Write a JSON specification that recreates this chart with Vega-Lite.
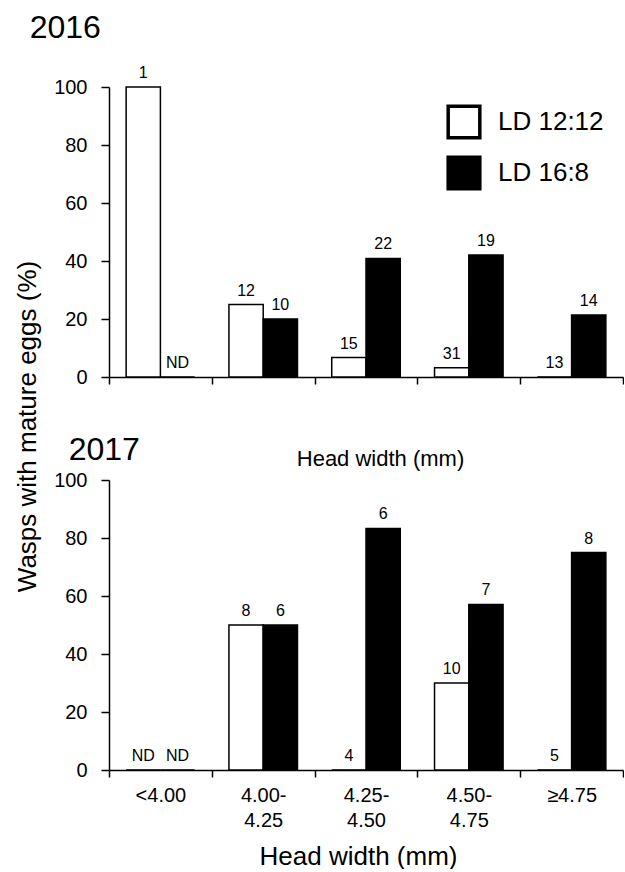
{
  "$schema": "https://vega.github.io/schema/vega-lite/v6.json",
  "padding": {"left": 14, "top": 12, "right": 0, "bottom": 0},
  "bounds": "flush",
  "spacing": 103,
  "background": "white",
  "data": {"values": [
    {"year": 2016, "size": "<4.00", "group": "LD 12:12", "pct": 100, "n": "1"},
    {"year": 2016, "size": "<4.00", "group": "LD 16:8", "pct": 0, "n": "ND"},
    {"year": 2016, "size": "4.00- 4.25", "group": "LD 12:12", "pct": 25, "n": "12"},
    {"year": 2016, "size": "4.00- 4.25", "group": "LD 16:8", "pct": 20, "n": "10"},
    {"year": 2016, "size": "4.25- 4.50", "group": "LD 12:12", "pct": 6.7, "n": "15"},
    {"year": 2016, "size": "4.25- 4.50", "group": "LD 16:8", "pct": 40.9, "n": "22"},
    {"year": 2016, "size": "4.50- 4.75", "group": "LD 12:12", "pct": 3.2, "n": "31"},
    {"year": 2016, "size": "4.50- 4.75", "group": "LD 16:8", "pct": 42.1, "n": "19"},
    {"year": 2016, "size": "≥4.75", "group": "LD 12:12", "pct": 0, "n": "13"},
    {"year": 2016, "size": "≥4.75", "group": "LD 16:8", "pct": 21.4, "n": "14"},
    {"year": 2017, "size": "<4.00", "group": "LD 12:12", "pct": 0, "n": "ND"},
    {"year": 2017, "size": "<4.00", "group": "LD 16:8", "pct": 0, "n": "ND"},
    {"year": 2017, "size": "4.00- 4.25", "group": "LD 12:12", "pct": 50, "n": "8"},
    {"year": 2017, "size": "4.00- 4.25", "group": "LD 16:8", "pct": 50, "n": "6"},
    {"year": 2017, "size": "4.25- 4.50", "group": "LD 12:12", "pct": 0, "n": "4"},
    {"year": 2017, "size": "4.25- 4.50", "group": "LD 16:8", "pct": 83.3, "n": "6"},
    {"year": 2017, "size": "4.50- 4.75", "group": "LD 12:12", "pct": 30, "n": "10"},
    {"year": 2017, "size": "4.50- 4.75", "group": "LD 16:8", "pct": 57.1, "n": "7"},
    {"year": 2017, "size": "≥4.75", "group": "LD 12:12", "pct": 0, "n": "5"},
    {"year": 2017, "size": "≥4.75", "group": "LD 16:8", "pct": 75, "n": "8"}
  ]},
  "resolve": {"legend": {"fill": "independent"}},
  "vconcat": [
    {
      "width": 514,
      "height": 290,
      "title": {"text": "2016", "anchor": "start", "dx": 15, "offset": 20},
      "transform": [{"filter": "datum.year == 2016"}],
      "encoding": {
        "x": {"field": "size", "type": "nominal", "sort": null,
          "scale": {"paddingInner": 0, "paddingOuter": 0},
          "axis": {"labels": false, "tickBand": "extent", "title": "Head width (mm)", "titleFontSize": 22, "titlePadding": 64, "titleX": 271}},
        "xOffset": {"field": "group", "type": "nominal", "scale": {"paddingInner": 0, "paddingOuter": 0.5}},
        "y": {"field": "pct", "type": "quantitative",
          "scale": {"domain": [0, 100], "nice": false},
          "axis": {"values": [0, 20, 40, 60, 80, 100], "title": "Wasps with mature eggs (%)", "titleFontSize": 26, "titleY": 339, "titlePadding": 13}}
      },
      "layer": [
        {
          "mark": {"type": "bar", "stroke": "black", "strokeWidth": 1.5},
          "encoding": {
            "fill": {"field": "group", "type": "nominal",
              "scale": {"domain": ["LD 12:12", "LD 16:8"], "range": ["white", "black"]},
              "legend": {"orient": "none", "legendX": 337, "legendY": 17, "title": null,
                "symbolType": "square", "symbolSize": 1000, "symbolStrokeColor": "black", "symbolStrokeWidth": 3.5,
                "labelFontSize": 26, "labelOffset": 16, "rowPadding": 5, "labelColor": "black", "labelFont": "Liberation Sans"}}
          }
        },
        {
          "mark": {"type": "text", "baseline": "alphabetic", "dy": -9, "fontSize": 16, "font": "Liberation Sans", "color": "black"},
          "encoding": {"text": {"field": "n"}}
        }
      ]
    },
    {
      "width": 514,
      "height": 290,
      "title": {"text": "2017", "anchor": "start", "dx": 15, "offset": 3},
      "transform": [{"filter": "datum.year == 2017"}],
      "encoding": {
        "x": {"field": "size", "type": "nominal", "sort": null,
          "scale": {"paddingInner": 0, "paddingOuter": 0},
          "axis": {"labelAngle": 0, "labelExpr": "isString(datum.value) ? split(datum.value, ' ') : ''", "labelLineHeight": 25, "labelPadding": 8, "tickBand": "extent", "title": "Head width (mm)", "titleFontSize": 26, "titlePadding": 13, "titleX": 249}},
        "xOffset": {"field": "group", "type": "nominal", "scale": {"paddingInner": 0, "paddingOuter": 0.5}},
        "y": {"field": "pct", "type": "quantitative",
          "scale": {"domain": [0, 100], "nice": false},
          "axis": {"values": [0, 20, 40, 60, 80, 100], "title": null}}
      },
      "layer": [
        {
          "mark": {"type": "bar", "stroke": "black", "strokeWidth": 1.5},
          "encoding": {
            "fill": {"field": "group", "type": "nominal",
              "scale": {"domain": ["LD 12:12", "LD 16:8"], "range": ["white", "black"]},
              "legend": null}
          }
        },
        {
          "mark": {"type": "text", "baseline": "alphabetic", "dy": -9, "fontSize": 16, "font": "Liberation Sans", "color": "black"},
          "encoding": {"text": {"field": "n"}}
        }
      ]
    }
  ],
  "config": {
    "view": {"stroke": null},
    "font": "Liberation Sans",
    "title": {"fontSize": 32, "fontWeight": "normal", "color": "black", "font": "Liberation Sans"},
    "axis": {"grid": false, "domainColor": "black", "domainWidth": 1.5, "tickColor": "black", "tickWidth": 1.5, "tickSize": 7,
      "labelColor": "black", "labelFontSize": 20, "labelFont": "Liberation Sans", "labelPadding": 14,
      "titleColor": "black", "titleFont": "Liberation Sans", "titleFontWeight": "normal"},
    "axisY": {"tickSize": 8}
  }
}
